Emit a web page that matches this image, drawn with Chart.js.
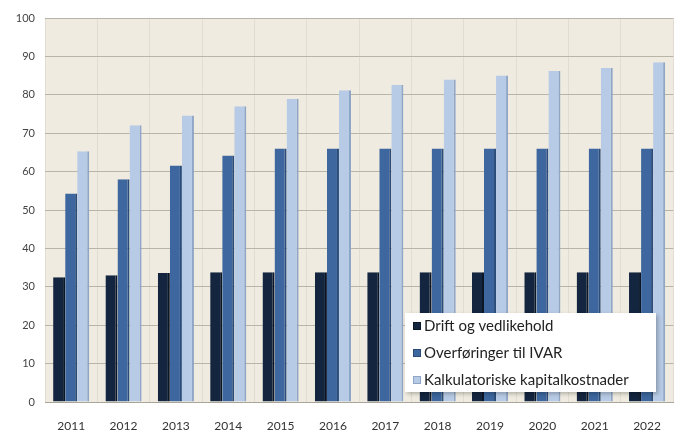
<!DOCTYPE html>
<html>
<head>
<meta charset="utf-8">
<script src="https://cdn.jsdelivr.net/npm/chart.js@4.4.1/dist/chart.umd.min.js"></script>
<style>
  html, body { margin: 0; padding: 0; background: #fff; }
  #wrap { width: 678px; height: 434px; position: relative; }
</style>
</head>
<body>
<div id="wrap"><canvas id="c"></canvas></div>
<script>
// ── DATA ─────────────────────────────────────────────────────────────────────
const years = ['2011','2012','2013','2014','2015','2016','2017','2018','2019','2020','2021','2022'];
const drift = [32.5, 33, 33.6, 33.8, 33.8, 33.8, 33.8, 33.8, 33.8, 33.8, 33.8, 33.8];
const ivar = [54.3, 58, 61.6, 64.2, 66, 66, 66, 66, 66, 66, 66, 66];
const kapital = [65.3, 72.1, 74.6, 77, 79, 81.2, 82.6, 84, 85, 86.2, 87, 88.5];
const seriesNames = ['Drift og vedlikehold', 'Overføringer til IVAR', 'Kalkulatoriske kapitalkostnader'];
const yTicks = [0, 10, 20, 30, 40, 50, 60, 70, 80, 90, 100];

const colors = ['#13253f', '#3d679e', '#b8cbe6'];
const edges = ['#0b1627', '#2b4c78', '#8fa6c6'];

// beige plot background
const plotBg = {
  id: 'plotBg',
  beforeDraw(chart) {
    const { ctx, chartArea: a } = chart;
    ctx.save();
    ctx.fillStyle = '#efebe0';
    ctx.fillRect(a.left, a.top, a.right - a.left, a.bottom - a.top);
    ctx.restore();
  }
};

// legend box sitting inside the plot, bottom right
const boxLegend = {
  id: 'boxLegend',
  afterDraw(chart) {
    const { ctx } = chart;
    const x = 405, y = 313, w = 251, h = 79;
    ctx.save();
    ctx.shadowColor = 'rgba(0,0,0,0.25)';
    ctx.shadowBlur = 4; ctx.shadowOffsetX = 2; ctx.shadowOffsetY = 2;
    ctx.fillStyle = '#ffffff';
    ctx.fillRect(x, y, w, h);
    ctx.restore();
    ctx.save();
    ctx.font = '15px Lato, "Open Sans", sans-serif';
    ctx.textBaseline = 'middle';
    chart.data.datasets.forEach((ds, i) => {
      const ly = y + 13 + i * 27;
      ctx.fillStyle = ds.backgroundColor;
      ctx.fillRect(x + 8, ly - 4, 8, 8);
      ctx.strokeStyle = ds.borderColor;
      ctx.lineWidth = 1;
      ctx.strokeRect(x + 8.5, ly - 3.5, 7, 7);
      ctx.fillStyle = '#222';
      ctx.fillText(ds.label, x + 19, ly);
    });
    ctx.restore();
  }
};

new Chart(document.getElementById('c'), {
  type: 'bar',
  data: {
    labels: years,
    datasets: [drift, ivar, kapital].map((d, i) => ({
      label: seriesNames[i], data: d,
      backgroundColor: colors[i], borderColor: edges[i], borderWidth: { left: 0, right: 2, top: 0, bottom: 0 },
      categoryPercentage: 0.69, barPercentage: 1.0
    }))
  },
  options: {
    responsive: true, maintainAspectRatio: false, animation: false,
    layout: { padding: { top: 18, right: 0, left: 0, bottom: 0 } },
    plugins: { legend: { display: false }, tooltip: { enabled: false } },
    scales: {
      x: {
        grid: { display: true, color: '#e2ddd2', drawTicks: false, offset: true },
        border: { display: true, color: '#aaa59a' },
        ticks: { color: '#333', font: { family: 'Lato, "Open Sans", sans-serif', size: 12 }, padding: 17 },
        afterFit(s) { s.height = 32; }
      },
      y: {
        min: 0, max: 100,
        afterBuildTicks(s) { s.ticks = yTicks.map(v => ({ value: v })); },
        grid: { color: '#b9b4a8', drawTicks: false },
        border: { display: false },
        ticks: { color: '#444', font: { family: 'Lato, "Open Sans", sans-serif', size: 11 }, padding: 10 },
        afterFit(s) { s.width = 45; }
      }
    }
  },
  plugins: [plotBg, boxLegend]
});
</script>
</body>
</html>
